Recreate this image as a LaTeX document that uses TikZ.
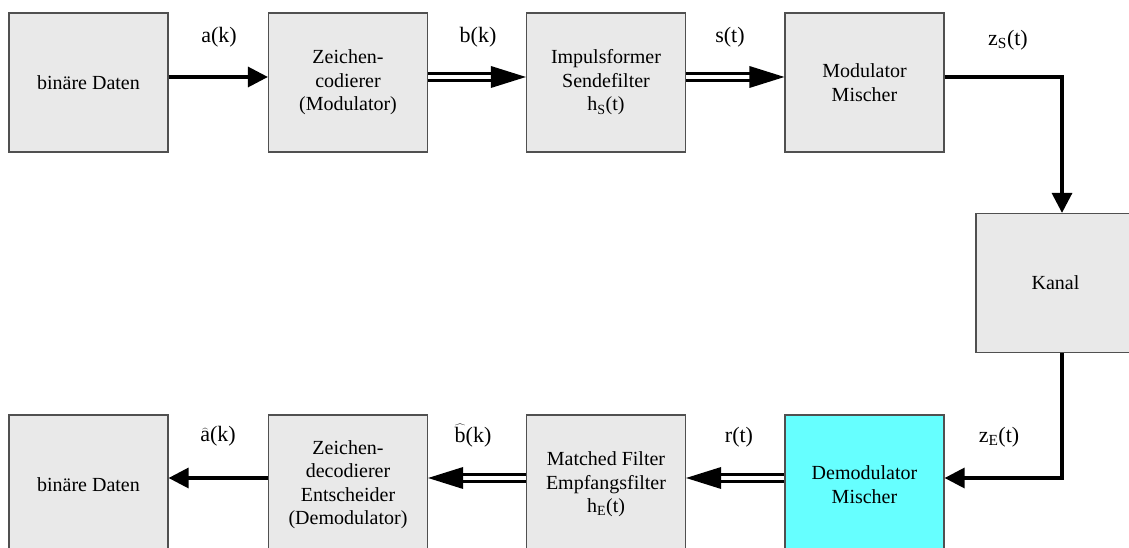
\documentclass[tikz,border=0pt]{standalone}
\usepackage{fontspec}
\setmainfont{LiberationSerif}[Extension=.ttf, UprightFont=*-Regular, BoldFont=*-Bold]
\usetikzlibrary{arrows.meta}
\definecolor{boxfill}{HTML}{E9E9E9}
\definecolor{boxline}{HTML}{505050}
\definecolor{cyanfill}{HTML}{66FFFF}
\newcommand\myhat[1]{\ensuremath{\widehat{\mbox{#1}}}}
\begin{document}
\begin{tikzpicture}[x=1pt,y=1pt,
  blk/.style={draw=boxline, line width=1.2pt, fill=boxfill, minimum width=159pt,
    minimum height=139pt, inner sep=0pt, align=center,
    font=\fontsize{20}{23.5}\selectfont},
  lbl/.style={font=\fontsize{22}{26}\selectfont, inner sep=0pt},
  sarr/.style={line width=3.3pt, -{Triangle[length=20pt,width=20pt]}},
  dline/.style={line width=3.3pt, double=white, double distance=4pt, shorten >=33pt},
]
\useasboundingbox (0,0) rectangle (1129,548);
\clip (0,0) rectangle (1129,548);
\fill[white] (0,0) rectangle (1129,548);

% top row
\node[blk] (b1) at (88.5,465.5) {binäre Daten};
\node[blk] (b2) at (348,465.5) {Zeichen-\\codierer\\(Modulator)};
\node[blk] (b3) at (606,465.5) {Impulsformer\\Sendefilter\\h\textsubscript{S}(t)};
\node[blk] (b4) at (864.5,465.5) {Modulator\\Mischer};
% channel
\node[blk] (kanal) at (1055.5,265) {Kanal};
% bottom row
\node[blk] (d1) at (88.5,63.5) {binäre Daten};
\node[blk] (d2) at (348,63.5) {Zeichen-\\decodierer\\Entscheider\\(Demodulator)};
\node[blk] (d3) at (606,63.5) {Matched Filter\\Empfangsfilter\\h\textsubscript{E}(t)};
\node[blk, fill=cyanfill] (d4) at (864.5,63.5) {Demodulator\\Mischer};

% top connectors
\draw[sarr] ([yshift=5.5pt]b1.east) -- ([yshift=5.5pt]b2.west);
\draw[dline] ([yshift=5.5pt]b2.east) -- ([yshift=5.5pt]b3.west);
\fill ([yshift=5.5pt]b3.west) -- ++(-35,11) -- ++(0,-22) -- cycle;
\draw[dline] ([yshift=5.5pt]b3.east) -- ([yshift=5.5pt]b4.west);
\fill ([yshift=5.5pt]b4.west) -- ++(-35,11) -- ++(0,-22) -- cycle;
\draw[sarr] ([yshift=5.5pt]b4.east) -| ([xshift=6.5pt]kanal.north);
% bottom connectors
\draw[sarr] ([xshift=6.5pt]kanal.south) |- ([yshift=6.5pt]d4.east);
\draw[dline] ([yshift=6.5pt]d4.west) -- ([yshift=6.5pt]d3.east);
\fill ([yshift=6.5pt]d3.east) -- ++(35,11) -- ++(0,-22) -- cycle;
\draw[dline] ([yshift=6.5pt]d3.west) -- ([yshift=6.5pt]d2.east);
\fill ([yshift=6.5pt]d2.east) -- ++(35,11) -- ++(0,-22) -- cycle;
\draw[sarr] ([yshift=6.5pt]d2.west) -- ([yshift=6.5pt]d1.east);

% labels
\node[lbl] (la) at (219,511) {a(k)};
\node[lbl] (lb) at (478,511) {b(k)};
\node[lbl] (ls) at (730,511) {s(t)};
\node[lbl] (lzs) at (1008,508) {z\textsubscript{S}(t)};
\node[lbl] (lah) at (218,112) {\myhat{a}(k)};
\node[lbl] (lbh) at (473,112) {\myhat{b}(k)};
\node[lbl] (lr) at (739,111) {r(t)};
\node[lbl] (lze) at (999,111) {z\textsubscript{E}(t)};
\end{tikzpicture}
\end{document}
